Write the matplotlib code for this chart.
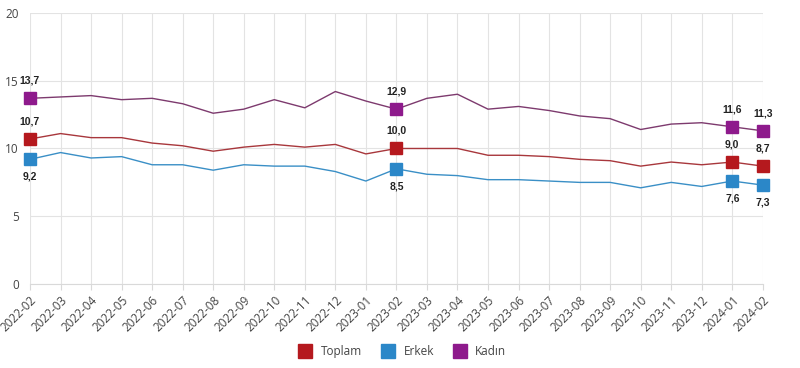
import matplotlib
matplotlib.use("Agg")
import matplotlib.pyplot as plt
from matplotlib.lines import Line2D

#
# Les données.
#
aylar = ["2022-02", "2022-03", "2022-04", "2022-05", "2022-06", "2022-07", "2022-08",
         "2022-09", "2022-10", "2022-11", "2022-12", "2023-01", "2023-02", "2023-03",
         "2023-04", "2023-05", "2023-06", "2023-07", "2023-08", "2023-09", "2023-10",
         "2023-11", "2023-12", "2024-01", "2024-02"]

toplam = [10.7, 11.1, 10.8, 10.8, 10.4, 10.2, 9.8, 10.1, 10.3, 10.1, 10.3, 9.6, 10.0,
          10.0, 10.0, 9.5, 9.5, 9.4, 9.2, 9.1, 8.7, 9.0, 8.8, 9.0, 8.7]
erkek = [9.2, 9.7, 9.3, 9.4, 8.8, 8.8, 8.4, 8.8, 8.7, 8.7, 8.3, 7.6, 8.5,
         8.1, 8.0, 7.7, 7.7, 7.6, 7.5, 7.5, 7.1, 7.5, 7.2, 7.6, 7.3]
kadin = [13.7, 13.8, 13.9, 13.6, 13.7, 13.3, 12.6, 12.9, 13.6, 13.0, 14.2, 13.5, 12.9,
         13.7, 14.0, 12.9, 13.1, 12.8, 12.4, 12.2, 11.4, 11.8, 11.9, 11.6, 11.3]

# Les mois où un marqueur et une étiquette sont affichés
marques = [0, 12, 23, 24]

#
# Le style de chaque série : nom, valeurs, couleur du marqueur, couleur de la ligne, position du texte
#
series = [
    ("Toplam", toplam, "#b5191e", "#a8373c", "haut"),
    ("Erkek", erkek, "#2b87c8", "#3a8fc6", "bas"),
    ("Kadın", kadin, "#8e1a8c", "#7d3a6e", "haut"),
]

plt.rcParams["font.family"] = ["Open Sans", "DejaVu Sans"]

fig = plt.figure(figsize=(8, 3.68), dpi=100)
ax = fig.add_axes([0.0375, 0.228, 0.916, 0.737])

x = list(range(len(aylar)))

for nom, valeurs, couleur, couleur_ligne, pos in series:
    ax.plot(x, valeurs, color=couleur_ligne, linewidth=1.0, zorder=3)
    ax.plot([x[i] for i in marques], [valeurs[i] for i in marques], linestyle="none",
            marker="s", markersize=9, markerfacecolor=couleur, markeredgecolor=couleur,
            zorder=4, clip_on=False)
    for i in marques:
        texte = f"{valeurs[i]:.1f}".replace(".", ",")
        if pos == "haut":
            ax.annotate(texte, (x[i], valeurs[i]), xytext=(0, 9), textcoords="offset points",
                        ha="center", va="bottom", fontsize=7.5, fontweight="bold",
                        family=["Liberation Sans", "DejaVu Sans"], color="#222222")
        else:
            ax.annotate(texte, (x[i], valeurs[i]), xytext=(0, -9), textcoords="offset points",
                        ha="center", va="top", fontsize=7.5, fontweight="bold",
                        family=["Liberation Sans", "DejaVu Sans"], color="#222222")

#
# Les axes, la grille et les étiquettes
#
ax.set_xlim(0, len(aylar) - 1)
ax.set_ylim(0, 20)
ax.set_yticks([0, 5, 10, 15, 20])
ax.set_xticks(x)
ax.set_xticklabels(aylar, rotation=45, ha="right", rotation_mode="anchor")
ax.tick_params(axis="x", labelsize=8.5, colors="#444444", length=4, color="#d9d9d9", pad=3)
ax.tick_params(axis="y", labelsize=8.5, colors="#444444", length=0, pad=8)
ax.grid(True, color="#e3e3e3", linewidth=0.8)
ax.set_axisbelow(True)
for cote in ["top", "right", "left"]:
    ax.spines[cote].set_visible(False)
ax.spines["bottom"].set_color("#d9d9d9")

#
# La légende en bas du graphe
#
poignees = [Line2D([], [], linestyle="none", marker="s", markersize=10,
                   markerfacecolor=s[2], markeredgecolor=s[2]) for s in series]
fig.legend(poignees, [s[0] for s in series], loc="center", bbox_to_anchor=(0.5, 0.045),
           ncol=3, frameon=False, fontsize=8.5, handletextpad=0.3, columnspacing=1.2,
           labelcolor="#444444")

fig.savefig("out.png", dpi=100)
